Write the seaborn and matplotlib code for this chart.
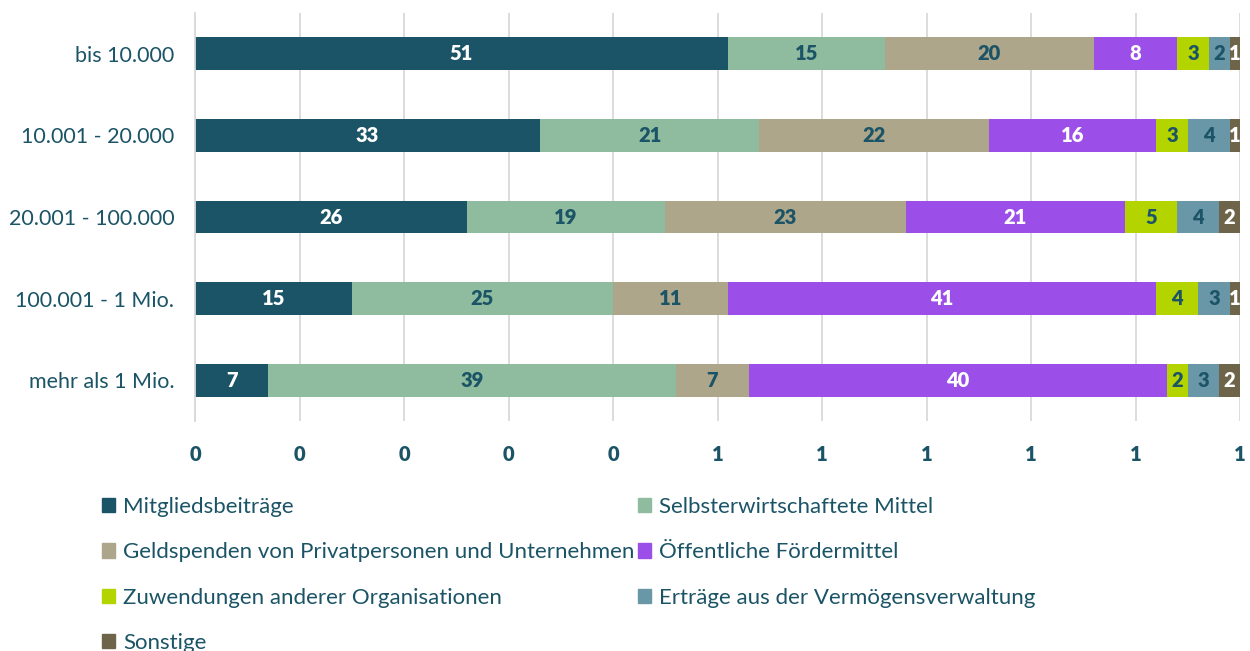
import matplotlib
matplotlib.use("Agg")
import matplotlib.pyplot as plt
import matplotlib.patches as mpatches
import seaborn as sns
import pandas as pd
import numpy as np

categories = ["bis 10.000", "10.001 - 20.000", "20.001 - 100.000", "100.001 - 1 Mio.", "mehr als 1 Mio."]
series_names = [
    "Mitgliedsbeiträge",
    "Selbsterwirtschaftete Mittel",
    "Geldspenden von Privatpersonen und Unternehmen",
    "Öffentliche Fördermittel",
    "Zuwendungen anderer Organisationen",
    "Erträge aus der Vermögensverwaltung",
    "Sonstige",
]
mitglied = [51, 33, 26, 15, 7]
selbst = [15, 21, 19, 25, 39]
spenden = [20, 22, 23, 11, 7]
foerder = [8, 16, 21, 41, 40]
zuwend = [3, 3, 5, 4, 2]
ertraege = [2, 4, 4, 3, 3]
sonstige = [1, 1, 2, 1, 2]
x_tick_labels = ["0", "0", "0", "0", "0", "1", "1", "1", "1", "1", "1"]

series = [mitglied, selbst, spenden, foerder, zuwend, ertraege, sonstige]
colors = ["#1B5466", "#8FBC9E", "#ADA68B", "#9B4FE8", "#B4D400", "#6A97A8", "#6E6449"]
label_colors = ["white", "#1B5466", "#1B5466", "white", "#1B5466", "#1B5466", "white"]
text_color = "#1B5466"

sns.set_style("white")
plt.rcParams["font.family"] = ["Lato", "DejaVu Sans"]

fig = plt.figure(figsize=(12.5, 6.51), dpi=100)
ax = fig.add_axes([195 / 1250, 1 - 421 / 651, (1240 - 195) / 1250, (421 - 13) / 651])

vals = np.array(series, dtype=float)  # shape (7, 5)
cum = np.cumsum(vals, axis=0) / 100.0

# draw cumulative bars from the largest to smallest so they stack visually
for i in range(len(series) - 1, -1, -1):
    df = pd.DataFrame({"cat": categories, "val": cum[i]})
    sns.barplot(data=df, y="cat", x="val", orient="h", color=colors[i],
                saturation=1, width=0.4, ax=ax, zorder=2, linewidth=0)

# segment labels
for i in range(len(series)):
    for j in range(len(categories)):
        start = cum[i][j] - vals[i][j] / 100.0
        center = start + vals[i][j] / 200.0
        ax.text(center, j, f"{int(vals[i][j])}", ha="center", va="center",
                color=label_colors[i], fontsize=14.5, fontweight="heavy", zorder=5)

ax.set_xlim(0, 1)
ax.set_ylim(4.5, -0.5)
ax.set_xticks(np.linspace(0, 1, 11))
ax.set_xticklabels(x_tick_labels)
ax.set_xlabel("")
ax.set_ylabel("")
ax.grid(axis="x", color="#D9D9D9", linewidth=1.3, zorder=0)
ax.grid(axis="y", visible=False)
for s in ["top", "right", "bottom"]:
    ax.spines[s].set_visible(False)
ax.spines["left"].set_color("#D9D9D9")
ax.spines["left"].set_linewidth(1.3)
ax.tick_params(axis="x", length=5, color="#D9D9D9", width=1.3, pad=12,
               labelsize=14.5, labelcolor=text_color)
for lbl in ax.get_xticklabels():
    lbl.set_fontweight("heavy")
ax.tick_params(axis="y", length=0, pad=15, labelsize=15.5, labelcolor=text_color)

# legend: row-wise order in 2 columns
order = [0, 2, 4, 6, 1, 3, 5]
handles = [mpatches.Patch(color=colors[k], label=series_names[k]) for k in order]
fig.legend(handles=handles, loc="upper left", bbox_to_anchor=(102 / 1250, 1 - 497 / 651),
           ncol=2, frameon=False, fontsize=16, labelcolor=text_color,
           handlelength=0.6, handleheight=0.6, handletextpad=0.35,
           labelspacing=1.14, columnspacing=0.15, borderaxespad=0, borderpad=0)

fig.savefig("out.png", dpi=100)
